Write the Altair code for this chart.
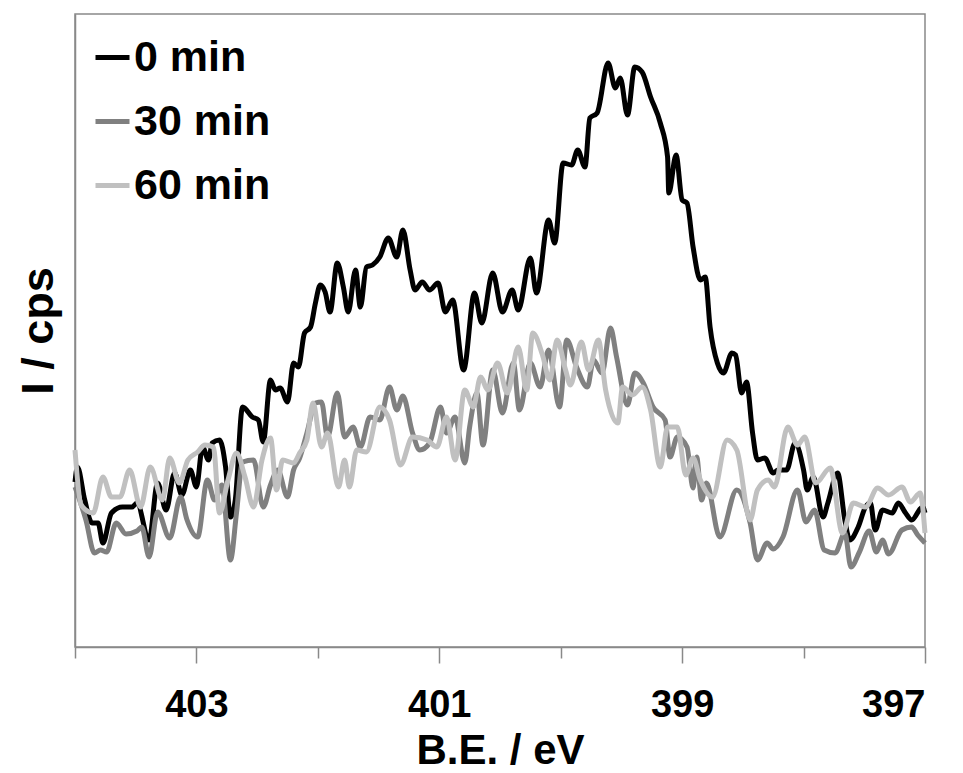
import altair as alt
import pandas as pd

series = ["0 min", "30 min", "60 min"]
colors = ["#000000", "#808080", "#c0c0c0"]

be_0 = [404.00, 403.98, 403.92, 403.86, 403.81, 403.77, 403.70, 403.61, 403.53, 403.49, 403.39,
        403.32, 403.25, 403.18, 403.12, 403.05, 403.00, 402.95, 402.90, 402.87, 402.81,
        402.76, 402.72, 402.68, 402.62, 402.54, 402.49, 402.45, 402.39, 402.35, 402.31,
        402.25, 402.20, 402.16, 402.11, 402.06, 402.02, 401.98, 401.94, 401.90, 401.84,
        401.79, 401.75, 401.69, 401.65, 401.60, 401.55, 401.49, 401.42, 401.35, 401.30,
        401.24, 401.20, 401.14, 401.08, 401.01, 400.95, 400.89, 400.80, 400.71, 400.65,
        400.56, 400.48, 400.40, 400.35, 400.25, 400.20, 400.10, 400.05, 399.98, 399.91,
        399.86, 399.80, 399.76, 399.70, 399.61, 399.55, 399.51, 399.45, 399.39, 399.33,
        399.26, 399.18, 399.12, 399.11, 399.05, 399.00, 398.96, 398.91, 398.85, 398.81,
        398.77, 398.71, 398.66, 398.59, 398.56, 398.51, 398.47, 398.42, 398.38, 398.32,
        398.25, 398.21, 398.14, 398.07, 398.00, 397.97, 397.92, 397.84, 397.80, 397.72,
        397.66, 397.62, 397.55, 397.49, 397.45, 397.41, 397.35, 397.27, 397.22, 397.16,
        397.11, 397.02, 397.00]
cps_0 = [165, 180, 147, 124, 124, 104, 134, 140, 140, 144, 107,
         164, 137, 174, 152, 177, 160, 200, 187, 204, 207,
         180, 130, 147, 240, 230, 227, 205, 267, 257, 259,
         245, 284, 280, 314, 320, 344, 362, 355, 335, 384,
         360, 335, 377, 340, 380, 382, 390, 409, 390, 417,
         377, 357, 365, 357, 364, 335, 347, 277, 354, 324,
         374, 335, 357, 337, 389, 354, 427, 404, 484, 482,
         497, 480, 529, 534, 584, 559, 569, 532, 580, 575,
         550, 524, 490, 454, 492, 447, 444, 400, 367, 370,
         320, 284, 274, 294, 292, 254, 265, 214, 187, 189,
         174, 177, 177, 204, 177, 157, 170, 130, 144, 174,
         127, 107, 120, 140, 144, 117, 137, 134, 144, 134,
         127, 140, 134]

be_30 = [404.00, 403.91, 403.84, 403.79, 403.74, 403.66, 403.58, 403.49, 403.45, 403.39,
         403.32, 403.22, 403.13, 403.08, 402.99, 402.91, 402.85, 402.79, 402.72, 402.67,
         402.62, 402.53, 402.45, 402.39, 402.33, 402.25, 402.20, 402.15, 402.09, 402.02,
         401.97, 401.92, 401.84, 401.78, 401.71, 401.65, 401.57, 401.49, 401.41, 401.35,
         401.30, 401.22, 401.16, 401.08, 400.99, 400.94, 400.87, 400.79, 400.75, 400.69,
         400.64, 400.56, 400.48, 400.39, 400.34, 400.25, 400.17, 400.10, 400.01, 399.95,
         399.87, 399.78, 399.73, 399.66, 399.59, 399.54, 399.45, 399.39, 399.32, 399.24,
         399.14, 399.10, 399.04, 398.96, 398.91, 398.88, 398.84, 398.80, 398.69, 398.55,
         398.44, 398.38, 398.30, 398.25, 398.17, 398.05, 397.98, 397.91, 397.83, 397.74,
         397.66, 397.61, 397.54, 397.46, 397.40, 397.35, 397.30, 397.19, 397.11, 397.06,
         397.00]
cps_30 = [160, 127, 94, 97, 95, 124, 113, 116, 120, 90,
          135, 109, 150, 128, 110, 167, 147, 162, 87, 134,
          185, 187, 140, 162, 177, 150, 177, 189, 214, 244,
          245, 210, 254, 210, 220, 200, 230, 227, 260, 237,
          251, 214, 197, 204, 240, 214, 230, 184, 220, 254,
          202, 277, 234, 284, 237, 284, 260, 297, 240, 307,
          280, 260, 287, 274, 319, 290, 242, 274, 264, 240,
          227, 190, 210, 200, 159, 190, 147, 164, 110, 157,
          124, 87, 104, 98, 110, 157, 125, 137, 97, 94,
          114, 80, 95, 116, 95, 107, 93, 117, 120, 112,
          104]

be_60 = [404.00, 403.95, 403.85, 403.77, 403.70, 403.63, 403.55, 403.46, 403.38, 403.28,
         403.22, 403.14, 403.07, 402.99, 402.93, 402.86, 402.81, 402.74, 402.67, 402.60,
         402.53, 402.46, 402.39, 402.34, 402.29, 402.20, 402.15, 402.09, 402.04, 401.97,
         401.92, 401.83, 401.78, 401.74, 401.68, 401.60, 401.49, 401.41, 401.32, 401.22,
         401.10, 401.02, 400.94, 400.87, 400.79, 400.72, 400.66, 400.60, 400.52, 400.44,
         400.35, 400.28, 400.23, 400.15, 400.09, 400.03, 399.96, 399.92, 399.83, 399.77,
         399.69, 399.63, 399.53, 399.49, 399.41, 399.33, 399.26, 399.18, 399.12, 399.04,
         398.97, 398.91, 398.85, 398.75, 398.63, 398.55, 398.44, 398.38, 398.29, 398.24,
         398.13, 398.05, 397.99, 397.90, 397.78, 397.68, 397.59, 397.49, 397.39, 397.30,
         397.19, 397.12, 397.04, 397.00]
cps_60 = [197, 142, 134, 170, 150, 150, 177, 140, 180, 147,
          189, 164, 187, 195, 202, 200, 134, 167, 194, 170,
          140, 187, 209, 157, 187, 184, 194, 207, 244, 200,
          214, 160, 187, 160, 197, 195, 240, 227, 182, 210,
          207, 200, 230, 187, 257, 240, 270, 257, 284, 254,
          300, 257, 314, 292, 267, 307, 277, 262, 305, 277,
          307, 257, 224, 260, 252, 260, 237, 180, 220, 220,
          172, 189, 167, 150, 207, 197, 127, 157, 167, 160,
          220, 202, 210, 164, 179, 114, 144, 140, 159, 152,
          160, 145, 154, 114]

x_ticks = [404, 403, 402, 401, 400, 399, 398, 397]

frames = []
for name, be, cps in [(series[0], be_0, cps_0), (series[1], be_30, cps_30), (series[2], be_60, cps_60)]:
    frames.append(pd.DataFrame({"be": be, "cps": cps, "t": name}))
df = pd.concat(frames, ignore_index=True)

FONT = "Liberation Sans"
GRAY = "#898989"

chart = alt.Chart(df).mark_line(strokeWidth=5, interpolate="monotone").encode(
    x=alt.X(
        "be:Q",
        scale=alt.Scale(domain=[397, 404], reverse=True, nice=False, zero=False),
        axis=alt.Axis(
            values=x_ticks,
            title="B.E. / eV",
            labelExpr="datum.value % 2 == 1 ? datum.label : ''",
            tickSize={"condition": {"test": "datum.value % 2 == 0", "value": 11}, "value": 16},
            labelBaseline="alphabetic",
            labelPadding=53,
            labelFontSize=38,
            labelFont=FONT,
            labelFontWeight="bold",
            labelColor="#000000",
            titleFontSize=42,
            titleFont=FONT,
            titleFontWeight="bold",
            titleColor="#000000",
            titleBaseline="alphabetic",
            titleY=116,
            grid=False,
        ),
    ),
    y=alt.Y(
        "cps:Q",
        scale=alt.Scale(domain=[0, 633], nice=False),
        axis=alt.Axis(
            title="I / cps",
            labels=False,
            ticks=False,
            grid=False,
            titleFontSize=45,
            titleFont=FONT,
            titleFontWeight="bold",
            titleColor="#000000",
            titlePadding=14,
        ),
    ),
    color=alt.Color(
        "t:N",
        scale=alt.Scale(domain=series, range=colors),
        legend=alt.Legend(
            title=None,
            orient="none",
            legendX=16,
            legendY=22,
            symbolType="stroke",
            symbolSize=1156,
            symbolStrokeWidth=5,
            labelFontSize=43,
            labelFont=FONT,
            labelFontWeight="bold",
            labelColor="#000000",
            labelLimit=400,
            labelOffset=0,
            rowPadding=20,
            padding=0,
        ),
    ),
).properties(
    width=850,
    height=633,
    autosize=alt.AutoSizeParams(type="none"),
    padding={"left": 67, "top": 6, "right": 30, "bottom": 125},
).configure_view(
    stroke=GRAY, strokeWidth=1.5
).configure_axis(
    domainColor=GRAY, domainWidth=1.5, tickColor=GRAY, tickWidth=1.5
)

chart.save("out.html", embed_options={"renderer": "svg", "actions": False})
